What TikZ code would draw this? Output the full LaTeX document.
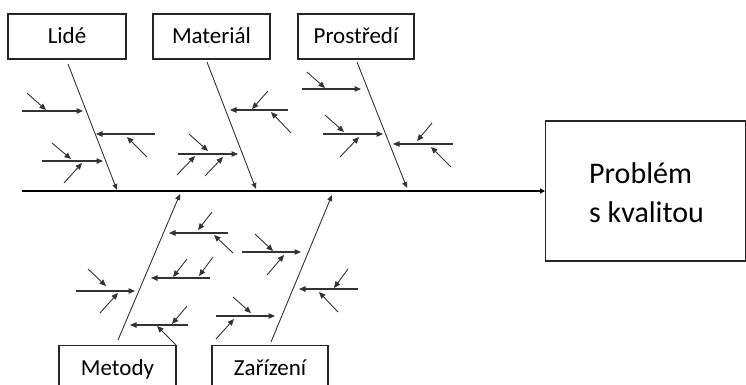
\documentclass[tikz,border=0pt]{standalone}
\usepackage{fontspec}
\setmainfont{Carlito}
\usetikzlibrary{arrows.meta}
\tikzset{
  lbl/.style={draw=black!85, line width=1.1pt, inner sep=0pt, text height=17pt, text depth=3pt, font=\fontsize{23}{27}\selectfont},
  bone/.style={draw=black!80, line width=0.9pt, -{Triangle[length=6pt,width=5pt]}},
  sub/.style={draw=black!80, line width=1.2pt, -{Triangle[length=6.5pt,width=5.5pt]}},
  small/.style={draw=black!80, line width=0.9pt, -{Triangle[length=6.5pt,width=5.5pt]}},
  spine/.style={draw=black, line width=2pt, -{Triangle[length=5pt,width=5pt]}}
}
\newcommand\fbarrow[4]{\coordinate (#1s) at (#2); \coordinate (#1e) at (#3); \draw[#4] (#1s) -- (#1e);}
\begin{document}
\begin{tikzpicture}[x=1pt,y=-1pt]
\useasboundingbox (0,0) rectangle (746,385);
% label boxes
\node[lbl, minimum width=118pt, minimum height=45pt] (lide) at (67,36.5) {Lidé};
\node[lbl, minimum width=117pt, minimum height=45pt] (mat) at (211.5,36.5) {Materiál};
\node[lbl, minimum width=116pt, minimum height=45pt] (pros) at (356,36.5) {Prostředí};
\node[lbl, minimum width=117pt, minimum height=46pt, anchor=north] (met) at (117.5,345) {Metody};
\node[lbl, minimum width=116pt, minimum height=46pt, anchor=north] (zar) at (270,345) {Zařízení};
% problem box
\node[draw=black!85, line width=1.1pt, minimum width=200pt, minimum height=140pt, anchor=west] (prob) at (545,191) {};
\node[anchor=west, align=left, font=\fontsize{30}{39}\selectfont, inner sep=0pt] (probtxt) at (589,193) {Problém\\s kvalitou};
% spine
\coordinate (spS) at (22,191);
\draw[spine] (spS) -- (prob.west);
% bones
\fbarrow{b1}{68,64}{117,190}{bone}
\fbarrow{b2}{207,62}{256,189}{bone}
\fbarrow{b3}{357,62}{407,188}{bone}
\fbarrow{b4}{118,340}{180,194}{bone}
\fbarrow{b5}{271,342}{332,195}{bone}
% Lide branches
\fbarrow{l1}{22,111}{83,111}{sub}
\fbarrow{l1a}{27,93}{46,110}{small}
\fbarrow{l2}{155,134}{96,134}{sub}
\fbarrow{l2a}{147,157}{127,137}{small}
\fbarrow{l3}{42,161}{103,161}{sub}
\fbarrow{l3a}{52,143}{71,159}{small}
\fbarrow{l3b}{64,183}{82,163}{small}
% Material branches
\fbarrow{m1}{178,154}{238,154}{sub}
\fbarrow{m1a}{189,134}{208,151}{small}
\fbarrow{m1b}{177,175}{195,156}{small}
\fbarrow{m1c}{205,176}{223,157}{small}
\fbarrow{m2}{288,110}{230,110}{sub}
\fbarrow{m2a}{268,91}{252,109}{small}
\fbarrow{m2b}{291,133}{271,112}{small}
% Prostredi branches
\fbarrow{p1}{302,89}{361,89}{sub}
\fbarrow{p1a}{307,72}{325,88}{small}
\fbarrow{p2}{323,134}{383,134}{sub}
\fbarrow{p2a}{325,115}{344,132}{small}
\fbarrow{p2b}{340,157}{359,137}{small}
\fbarrow{p3}{453,144}{393,144}{sub}
\fbarrow{p3a}{432,123}{417,141}{small}
\fbarrow{p3b}{451,167}{431,147}{small}
% Metody branches
\fbarrow{e1}{228,233}{169,233}{sub}
\fbarrow{e1a}{212,212}{198,230}{small}
\fbarrow{e1b}{233,253}{214,235}{small}
\fbarrow{e2}{210,278}{151,278}{sub}
\fbarrow{e2a}{187,259}{173,277}{small}
\fbarrow{e2b}{213,257}{199,276}{small}
\fbarrow{e3}{76,291}{135,291}{sub}
\fbarrow{e3a}{88,269}{106,286}{small}
\fbarrow{e3b}{100,313}{118,293}{small}
\fbarrow{e4}{188,325}{130,325}{sub}
\fbarrow{e4a}{187,306}{172,324}{small}
\fbarrow{e4b}{176,345}{157,326}{small}
% Zarizeni branches
\fbarrow{z1}{242,252}{301,252}{sub}
\fbarrow{z1a}{255,234}{273,251}{small}
\fbarrow{z1b}{267,275}{284,255}{small}
\fbarrow{z2}{358,289}{299,289}{sub}
\fbarrow{z2a}{348,269}{334,288}{small}
\fbarrow{z2b}{338,312}{319,292}{small}
\fbarrow{z3}{216,316}{275,316}{sub}
\fbarrow{z3a}{233,297}{251,313}{small}
\fbarrow{z3b}{216,339}{234,319}{small}
\end{tikzpicture}
\end{document}
